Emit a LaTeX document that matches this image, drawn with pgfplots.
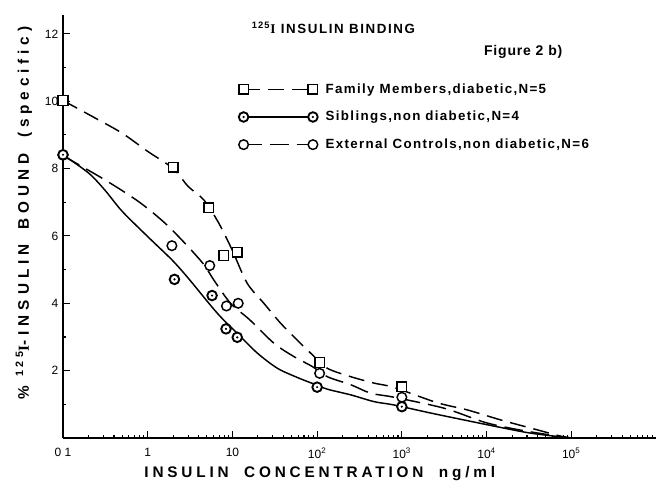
\documentclass[border=0pt]{standalone}
\usepackage{pgfplots}
\pgfplotsset{compat=1.18}
\usepackage{fontspec}
\setmainfont{Liberation Sans}
\newfontfamily\lsfont[LetterSpace=25]{Liberation Sans}
\newfontfamily\lyfont[LetterSpace=32]{Liberation Sans}
\newfontfamily\lgfont[LetterSpace=10]{Liberation Sans}
\newfontfamily\ttlfont[LetterSpace=12]{Liberation Sans}
\newfontfamily\figfont[LetterSpace=6]{Liberation Sans}
\newfontfamily\serifI{Liberation Serif}
\pgfdeclareplotmark{dotcirc}{%
  \pgfpathcircle{\pgfpointorigin}{\pgfplotmarksize}%
  \pgfusepathqfillstroke
  \begin{pgfscope}%
  \pgfsetfillcolor{black}%
  \pgfpathcircle{\pgfpointorigin}{0.9pt}%
  \pgfusepathqfill
  \end{pgfscope}}
\tikzset{
  famline/.style={black, line width=1.1pt, dash pattern=on 12pt off 6pt},
  sibline/.style={black, line width=1.1pt},
  extline/.style={black, line width=1.1pt, dash pattern=on 14pt off 6pt},
  fammark/.style={mark=square*, mark size=3.6pt, mark options={solid, fill=white, line width=1.1pt}},
  sibmark/.style={mark=dotcirc, mark size=3.6pt, mark options={solid, fill=white, line width=1.4pt}},
  extmark/.style={mark=*, mark size=3.6pt, mark options={solid, fill=white, line width=1.1pt}},
}
\begin{document}
\begin{tikzpicture}
\begin{axis}[name=ax, scale only axis, width=444.75pt, height=317.25pt,
  xmode=log, xmin=0.1, xmax=1e6, ymin=0, ymax=12.56,
  axis lines=left, axis line style={-, line width=1.2pt},
  tick align=inside, major tick length=5pt, minor tick length=2.5pt,
  every tick/.style={black, line width=0.8pt},
  xtick={0.1,1,10,100,1000,10000,100000},
  xticklabels={0 1,1,10,10\textsuperscript{2},10\textsuperscript{3},10\textsuperscript{4},10\textsuperscript{5}},
  minor xtick={0.2,0.3,0.4,0.5,0.6,0.7,0.8,0.9,2,3,4,5,6,7,8,9,20,30,40,50,60,70,80,90,200,300,400,500,600,700,800,900,2000,3000,4000,5000,6000,7000,8000,9000,2e4,3e4,4e4,5e4,6e4,7e4,8e4,9e4,2e5,3e5,4e5,5e5,6e5,7e5,8e5,9e5},
  ytick={2,4,6,8,10,12}, yticklabels={2,4,6,8,10,12},
  minor ytick={1,3,5,7,9,11},
  tick label style={font=\fontsize{9}{10}\selectfont},
  xticklabel style={yshift=-4pt},
  clip=false,
  legend style={at={(rel axis cs:0.296,0.845)}, anchor=north west, draw=none, fill=none,
    font=\lgfont\bfseries\fontsize{10}{12}\selectfont, row sep=8pt, inner sep=0pt,
    /tikz/every odd column/.append style={column sep=4pt}},
  legend cell align=left,
  legend image code/.code={\draw[#1, mark repeat=1] plot coordinates {(0pt,0pt) (52pt,0pt)};},
]
\addlegendimage{famline, fammark}
\addlegendentry{Family Members,diabetic,N=5}
\addlegendimage{sibline, sibmark}
\addlegendentry{Siblings,non diabetic,N=4}
\addlegendimage{extline, extmark}
\addlegendentry{External Controls,non diabetic,N=6}

% fitted curves
\addplot[famline, smooth, tension=0.5, forget plot] coordinates {
 (0.1,10.02) (0.24,9.5) (0.5,9.05) (1,8.51) (2,8.0) (3,7.47) (4.6,7.07) (6.9,6.38) (9.9,5.59)
 (14.9,4.6) (23.5,4.0) (37,3.41) (58,2.91) (88,2.47) (132,2.07) (250,1.82) (470,1.63) (810,1.50)
 (2600,1.05) (6000,0.83) (15000,0.53) (40000,0.24) (76000,0.05) (100000,0)};
\addplot[sibline, smooth, tension=0.5, forget plot] coordinates {
 (0.1,8.41) (0.2,7.87) (0.31,7.37) (0.5,6.73) (1,5.98) (1.93,5.29) (3,4.75) (6.6,3.71)
 (11.4,3.11) (19.7,2.52) (34,2.07) (58,1.8) (88,1.62) (132,1.45) (250,1.28) (470,1.08) (810,0.98)
 (2400,0.72) (13000,0.34) (34000,0.14) (100000,0)};
\addplot[extline, smooth, tension=0.5, forget plot] coordinates {
 (0.1,8.38) (0.31,7.67) (0.78,7.02) (1.6,6.38) (2.9,5.72) (4.6,5.15) (6,4.7) (9.5,4.0) (16,3.51)
 (31,2.81) (53,2.42) (88,2.12) (132,1.82) (250,1.58) (430,1.33) (810,1.21) (3200,0.88)
 (10000,0.45) (30000,0.2) (100000,0)};

% data points
\addplot[only marks, fammark, forget plot] coordinates {
 (0.1,10.02) (2,8.04) (5.25,6.84) (7.9,5.42) (11.4,5.52) (107,2.24) (1000,1.52)};
\addplot[only marks, extmark, forget plot] coordinates {
 (0.1,8.4) (1.93,5.71) (5.4,5.12) (8.5,3.92) (11.7,4.0) (107,1.92) (1000,1.21)};
\addplot[only marks, sibmark, forget plot] coordinates {
 (0.1,8.41) (2.07,4.71) (5.75,4.23) (8.4,3.24) (11.4,2.99) (100,1.51) (1000,0.93)};

\node[font=\ttlfont\bfseries\fontsize{10}{12}\selectfont] at (rel axis cs:0.456,0.969)
  {\textsuperscript{125}{\serifI I} INSULIN BINDING};
\node[font=\figfont\bfseries\fontsize{10.5}{12}\selectfont] at (rel axis cs:0.776,0.913)
  {Figure 2 b)};
\node[font=\lsfont\bfseries\fontsize{11.5}{13}\selectfont] at (rel axis cs:0.433,-0.083)
  {INSULIN\quad CONCENTRATION\quad ng/ml};
\node[rotate=90, font=\lyfont\bfseries\fontsize{11.5}{13}\selectfont] at (rel axis cs:-0.066,0.532)
  {\% \textsuperscript{125}{\serifI I}-INSULIN\quad BOUND\quad (specific)};
\end{axis}
\pgfresetboundingbox
\path ([shift={(-47.25pt,-33.75pt)}]ax.south west) rectangle ([shift={(0pt,11.25pt)}]ax.north east);
\end{tikzpicture}
\end{document}
